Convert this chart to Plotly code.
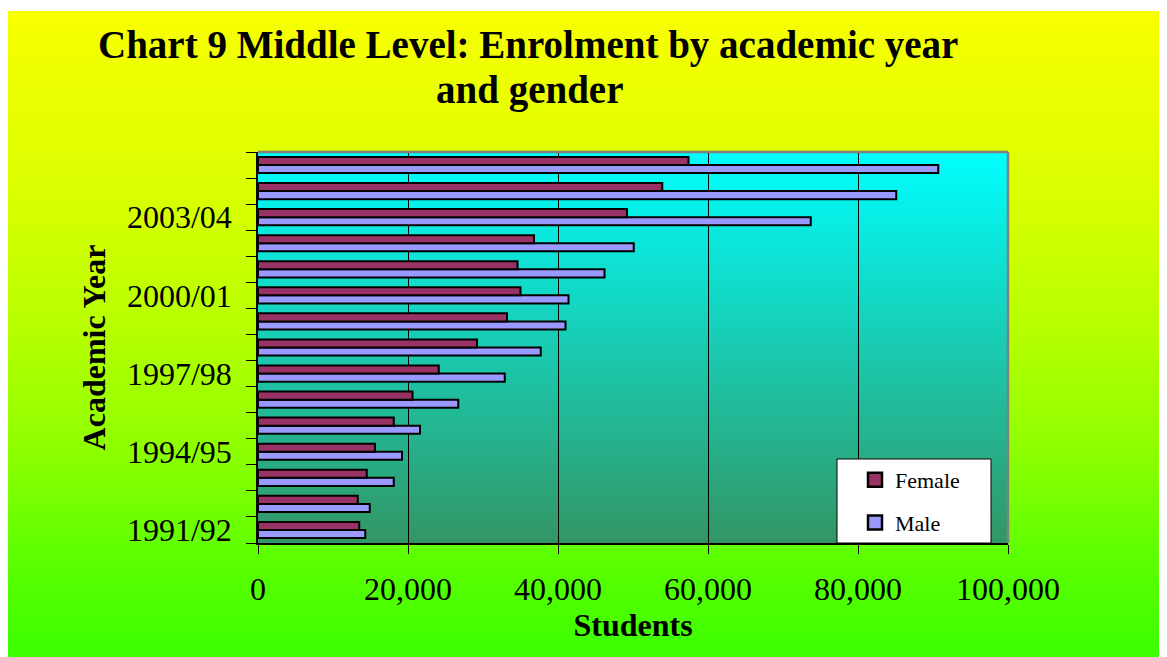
import plotly.graph_objects as go

# ---------------- data ----------------
years = ["1991/92", "1992/93", "1993/94", "1994/95", "1995/96", "1996/97", "1997/98",
         "1998/99", "1999/00", "2000/01", "2001/02", "2002/03", "2003/04", "2004/05", "2005/06"]
female = [13500, 13300, 14500, 15600, 18100, 20600, 24100, 29200, 33200, 35000,
          34600, 36800, 49200, 53900, 57400]
male = [14300, 14900, 18100, 19200, 21600, 26700, 32900, 37700, 41000, 41400,
        46200, 50100, 73700, 85100, 90700]
shown_labels = ["1991/92", "1994/95", "1997/98", "2000/01", "2003/04"]
x_ticks = [0, 20000, 40000, 60000, 80000, 100000]

FEMALE_COLOR = "#993366"
MALE_COLOR = "#9999FF"

# ---------------- geometry (screen pixels; page has an 8px body margin) ----------------
OFF = 8
W, H = 1167 - OFF, 657 - OFF
L, R, T, B = 258, 1008, 152, 543   # plot area on screen
PW, PH = R - L, B - T


def px(x):
    return (x - L) / PW


def py(y):
    return (B - y) / PH


def lerp(c1, c2, t):
    return tuple(round(a + (b - a) * t) for a, b in zip(c1, c2))


def interp_stops(stops, y):
    for (y0, c0), (y1, c1) in zip(stops, stops[1:]):
        if y0 <= y <= y1:
            return lerp(c0, c1, (y - y0) / (y1 - y0))
    return stops[-1][1]


shapes = []
# outer gradient background (yellow -> green)
outer_stops = [(11, (248, 255, 0)), (200, (216, 255, 0)), (330, (182, 255, 0)),
               (450, (142, 255, 0)), (560, (92, 255, 0)), (660, (58, 255, 0))]
n = 110
top, bot = 11, 660
for i in range(n):
    y0 = top + (bot - top) * i / n
    y1 = top + (bot - top) * (i + 1) / n
    c = interp_stops(outer_stops, (y0 + y1) / 2)
    shapes.append(dict(type="rect", xref="paper", yref="paper", layer="below",
                       x0=px(8), x1=px(1172), y0=py(min(y1 + 0.5, bot)), y1=py(max(y0 - 0.5, top)),
                       fillcolor="rgb(%d,%d,%d)" % c, line=dict(width=0)))
# plot area gradient (cyan -> sea green)
n2 = 80
for i in range(n2):
    y0 = T + PH * i / n2
    y1 = T + PH * (i + 1) / n2
    t = ((y0 + y1) / 2 - T) / PH
    c = lerp((0, 255, 255), (51, 150, 100), t)
    shapes.append(dict(type="rect", xref="paper", yref="paper", layer="below",
                       x0=0, x1=1, y0=max(0, py(y1 + 0.5)), y1=min(1, py(y0 - 0.5)),
                       fillcolor="rgb(%d,%d,%d)" % c, line=dict(width=0)))
# gray border top and right
shapes.append(dict(type="line", xref="paper", yref="paper", layer="above",
                   x0=0, x1=1, y0=1, y1=1, line=dict(color="#808080", width=2.5)))
shapes.append(dict(type="line", xref="paper", yref="paper", layer="above",
                   x0=1, x1=1, y0=0, y1=1, line=dict(color="#808080", width=2.5)))
# legend box
shapes.append(dict(type="rect", xref="paper", yref="paper", layer="above",
                   x0=px(837), x1=px(991), y0=py(543), y1=py(459),
                   fillcolor="white", line=dict(color="black", width=1)))

fig = go.Figure()
fig.add_trace(go.Bar(y=years, x=male, name="Male", orientation="h",
                     marker=dict(color=MALE_COLOR, line=dict(color="black", width=2)),
                     showlegend=False))
fig.add_trace(go.Bar(y=years, x=female, name="Female", orientation="h",
                     marker=dict(color=FEMALE_COLOR, line=dict(color="black", width=2)),
                     showlegend=False))
# legend proxies (square swatches like the original)
fig.add_trace(go.Scatter(x=[None], y=[None], mode="markers", name="Female",
                         marker=dict(symbol="square", size=14, color=FEMALE_COLOR,
                                     line=dict(color="black", width=2.5)),
                         legendgroup="f", legendrank=1, hoverinfo="skip"))
fig.add_trace(go.Scatter(x=[None], y=[None], mode="markers", name="Male",
                         marker=dict(symbol="square", size=14, color=MALE_COLOR,
                                     line=dict(color="black", width=2.5)),
                         legendgroup="m", legendrank=2, hoverinfo="skip"))

font_family = "Liberation Serif, Times New Roman, serif"

annotations = [
    dict(text="<b>Chart 9 Middle Level: Enrolment by academic year</b>", xref="paper", yref="paper",
         x=px(528), y=py(45), xanchor="center", yanchor="middle", showarrow=False,
         font=dict(size=39, family=font_family, color="black")),
    dict(text="<b>and gender</b>", xref="paper", yref="paper",
         x=px(529), y=py(90), xanchor="center", yanchor="middle", showarrow=False,
         font=dict(size=39, family=font_family, color="black")),
]

fig.update_layout(
    width=W, height=H,
    margin=dict(l=L - OFF, r=W - (R - OFF), t=T - OFF, b=H - (B - OFF), pad=0, autoexpand=False),
    paper_bgcolor="white", plot_bgcolor="rgba(0,0,0,0)",
    barmode="group", bargap=0.38, bargroupgap=0,
    shapes=shapes, annotations=annotations,
    font=dict(family=font_family, color="black"),
    showlegend=True,
    legend=dict(x=px(855), y=py(459), xanchor="left", yanchor="top",
                bgcolor="rgba(0,0,0,0)", borderwidth=0,
                traceorder="grouped", tracegroupgap=11,
                font=dict(size=22, family=font_family, color="black")),
    xaxis=dict(range=[0, 100000], tickvals=x_ticks, tickformat=",d",
               showgrid=True, gridcolor="black", gridwidth=1,
               showline=True, linecolor="black", linewidth=1.5,
               ticks="outside", ticklen=9, tickcolor="black", tickwidth=1,
               tickfont=dict(size=32, family=font_family), ticklabelstandoff=8,
               zeroline=False,
               title=dict(text="<b>Students</b>", font=dict(size=32, family=font_family),
                          standoff=4)),
    yaxis=dict(type="category", categoryorder="array", categoryarray=years,
               tickmode="array", tickvals=years,
               ticktext=[y if y in shown_labels else "" for y in years],
               tickson="boundaries", ticks="outside", ticklen=10,
               tickcolor="black", tickwidth=1,
               showline=True, linecolor="black", linewidth=1.5,
               showgrid=False, zeroline=False,
               tickfont=dict(size=32, family=font_family), ticklabelstandoff=18,
               title=dict(text="<b>Academic Year</b>", font=dict(size=32, family=font_family),
                          standoff=12)),
)

fig.write_html("out.html")
